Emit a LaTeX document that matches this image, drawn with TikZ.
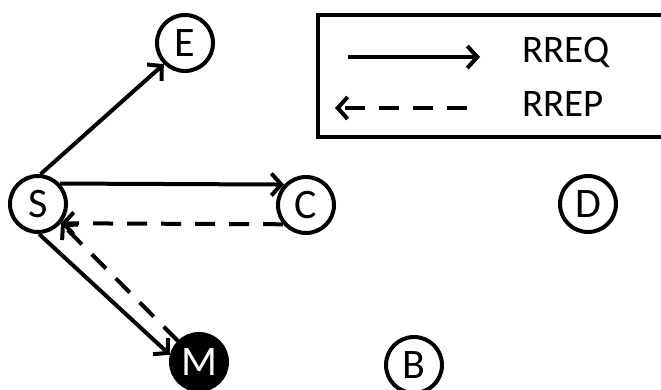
\documentclass[tikz,border=0pt]{standalone}
\usepackage{fontspec}
\setmainfont{Carlito}
\usetikzlibrary{arrows.meta}
\tikzset{
  nd/.style={circle, draw=black, line width=4pt, minimum size=56pt, inner sep=0pt, font=\fontsize{42}{42}\selectfont, fill=white},
  ndblack/.style={nd, fill=black, text=white},
  req/.style={line width=4pt, -{Straight Barb[length=10pt,width=22pt,line width=4pt]}},
  rep/.style={line width=4pt, dash pattern=on 20pt off 14pt, -{Straight Barb[length=10pt,width=22pt,line width=4pt]}},
  lgtext/.style={anchor=base west, inner sep=0pt, font=\fontsize{39}{39}\selectfont}
}
\begin{document}
\begin{tikzpicture}[x=1pt,y=-1pt]
\useasboundingbox (0,0) rectangle (661,390);
\clip (0,0) rectangle (661,390);
% legend
\draw[line width=4.5pt] (680,15) -- (318,15) -- (318,137) -- (680,137);
\coordinate (l1a) at (348,57);
\coordinate (l1b) at (480,57);
\coordinate (l2a) at (467,108);
\coordinate (l2b) at (335,108);
\draw[req] (l1a) -- (l1b);
\draw[rep] (l2a) -- (l2b);
\node[lgtext] (t1) at (522,63) {RREQ};
\node[lgtext] (t2) at (522,117) {RREP};
% nodes
\node[nd] (E) at (185,43) {E};
\node[nd] (S) at (38,204) {S};
\node[nd] (C) at (306,205) {C};
\node[nd] (D) at (588,204) {D};
\node[nd] (B) at (414,365) {B};
\node[ndblack] (M) at (199,362) {M};
% connectors
\draw[req] (S.85) -- (E.225);
\draw[req] (S.43) -- (C.137);
\draw[rep] (C.220) -- (S.-40);
\draw[req] (S.272) -- (M.166);
\draw[rep] (M.135) -- (S.-40);
\end{tikzpicture}
\end{document}
